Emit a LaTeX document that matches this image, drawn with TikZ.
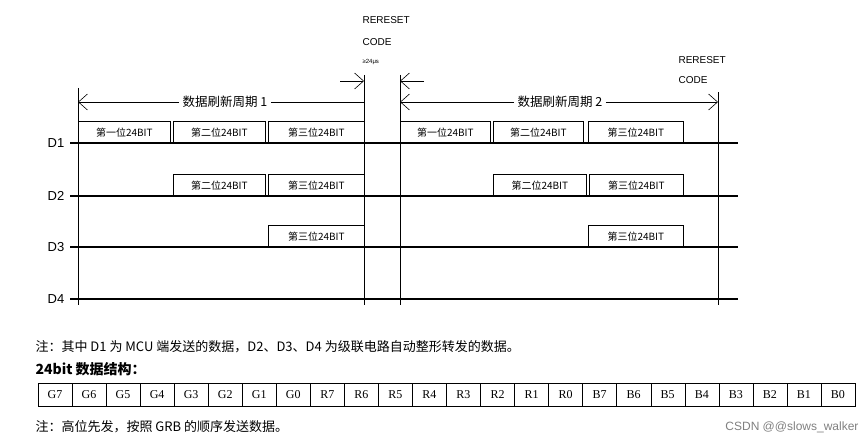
\documentclass[tikz,border=0pt]{standalone}
\usepackage{fontspec}
\setmainfont{Liberation Serif}
\newfontfamily\cjk{Noto Sans CJK SC}
\newfontfamily\cjksans{Liberation Sans}
\usetikzlibrary{arrows.meta}

\begin{document}
\begin{tikzpicture}[x=1pt,y=-1pt,
  sig/.style={line width=1.2pt},
  guide/.style={line width=0.6pt},
  seg/.style={draw, line width=0.6pt, minimum height=21pt, inner sep=0pt, anchor=south west, font=\cjk\fontsize{10}{10}\selectfont},
  tip/.style={-{Straight Barb[length=9pt,width=16pt]}},
  cell/.style={draw, minimum width=34.04pt, minimum height=23pt, inner sep=0pt, font=\fontsize{12}{12}\selectfont},
  note/.style={anchor=west, font=\cjk\fontsize{13}{13}\selectfont}]
\useasboundingbox (0,0) rectangle (865,444);

% signal lines
\foreach \n/\y in {1/143,2/196,3/247,4/299}{
  \node (L\n) at (56,\y) {\cjksans\fontsize{13}{13}\selectfont D\n};
  \coordinate (a\n) at (70,\y);
  \coordinate (b\n) at (738,\y);
  \draw[sig] (a\n) -- (b\n);
}

% vertical marks
\foreach \v/\x/\t in {s1/78/88,e1/364/75,s2/400/75,e2/718/92}{
  \coordinate (\v top) at (\x,\t);
  \coordinate (\v bot) at (\x,305);
  \draw[guide] (\v top) -- (\v bot);
}

% data frames
\foreach \x/\w/\y/\txt in {78/92/143/第一位24BIT,173/92/143/第二位24BIT,268/96/143/第三位24BIT,
  400/90/143/第一位24BIT,493/90/143/第二位24BIT,588/95/143/第三位24BIT,
  173/92/196/第二位24BIT,268/96/196/第三位24BIT,493/93/196/第二位24BIT,589/94/196/第三位24BIT,
  268/96/247/第三位24BIT,588/95/247/第三位24BIT}
  \node[seg, minimum width=\w pt] at (\x,\y) {\txt};

% refresh periods
\node (p1) at (225,102) {\cjk\fontsize{12.5}{13}\selectfont 数据刷新周期 1};
\node (p2) at (560,102) {\cjk\fontsize{12.5}{13}\selectfont 数据刷新周期 2};
\coordinate (p1l) at (78,102);
\coordinate (p1r) at (364,102);
\coordinate (p2l) at (400,102);
\coordinate (p2r) at (718,102);
\draw[guide,tip] (p1.west) -- (p1l);
\draw[guide] (p1.east) -- (p1r);
\draw[guide,tip] (p2.east) -- (p2r);
\draw[guide,tip] (p2.west) -- (p2l);

% reset code
\coordinate (r1) at (340,81);
\coordinate (r2) at (424,81);
\coordinate (r1e) at (364,81);
\coordinate (r2e) at (400,81);
\draw[guide,tip] (r1) -- (r1e);
\draw[guide,tip] (r2) -- (r2e);
\node[anchor=west] (rs1) at (359,20) {\cjksans\fontsize{10}{10}\selectfont RERESET};
\node[anchor=west] (cd1) at (359,42) {\cjksans\fontsize{10}{10}\selectfont CODE};
\node[anchor=west] (us1) at (359,62) {\cjksans\fontsize{6}{6}\selectfont ≥24μs};
\node[anchor=west] (rs2) at (675,60) {\cjksans\fontsize{10}{10}\selectfont RERESET};
\node[anchor=west] (cd2) at (675,80) {\cjksans\fontsize{10}{10}\selectfont CODE};

% notes and bit table
\node[note] (n1) at (32,347) {注：其中 D1 为 MCU 端发送的数据，D2、D3、D4 为级联电路自动整形转发的数据。};
\node[note, font=\cjk\bfseries\fontsize{14}{14}\selectfont] (n2) at (32,369) {24bit 数据结构：};
\foreach \b [count=\i from 0] in {G7,G6,G5,G4,G3,G2,G1,G0,R7,R6,R5,R4,R3,R2,R1,R0,B7,B6,B5,B4,B3,B2,B1,B0}
  \node[cell] (c\i) at (55+34.04*\i,395) {\b};
\node[note] (n3) at (32,427) {注：高位先发，按照 GRB 的顺序发送数据。};
\node[anchor=east, text=gray] (wm) at (862,427) {\cjksans\fontsize{12}{12}\selectfont CSDN @@slows\_walker};
\end{tikzpicture}
\end{document}
